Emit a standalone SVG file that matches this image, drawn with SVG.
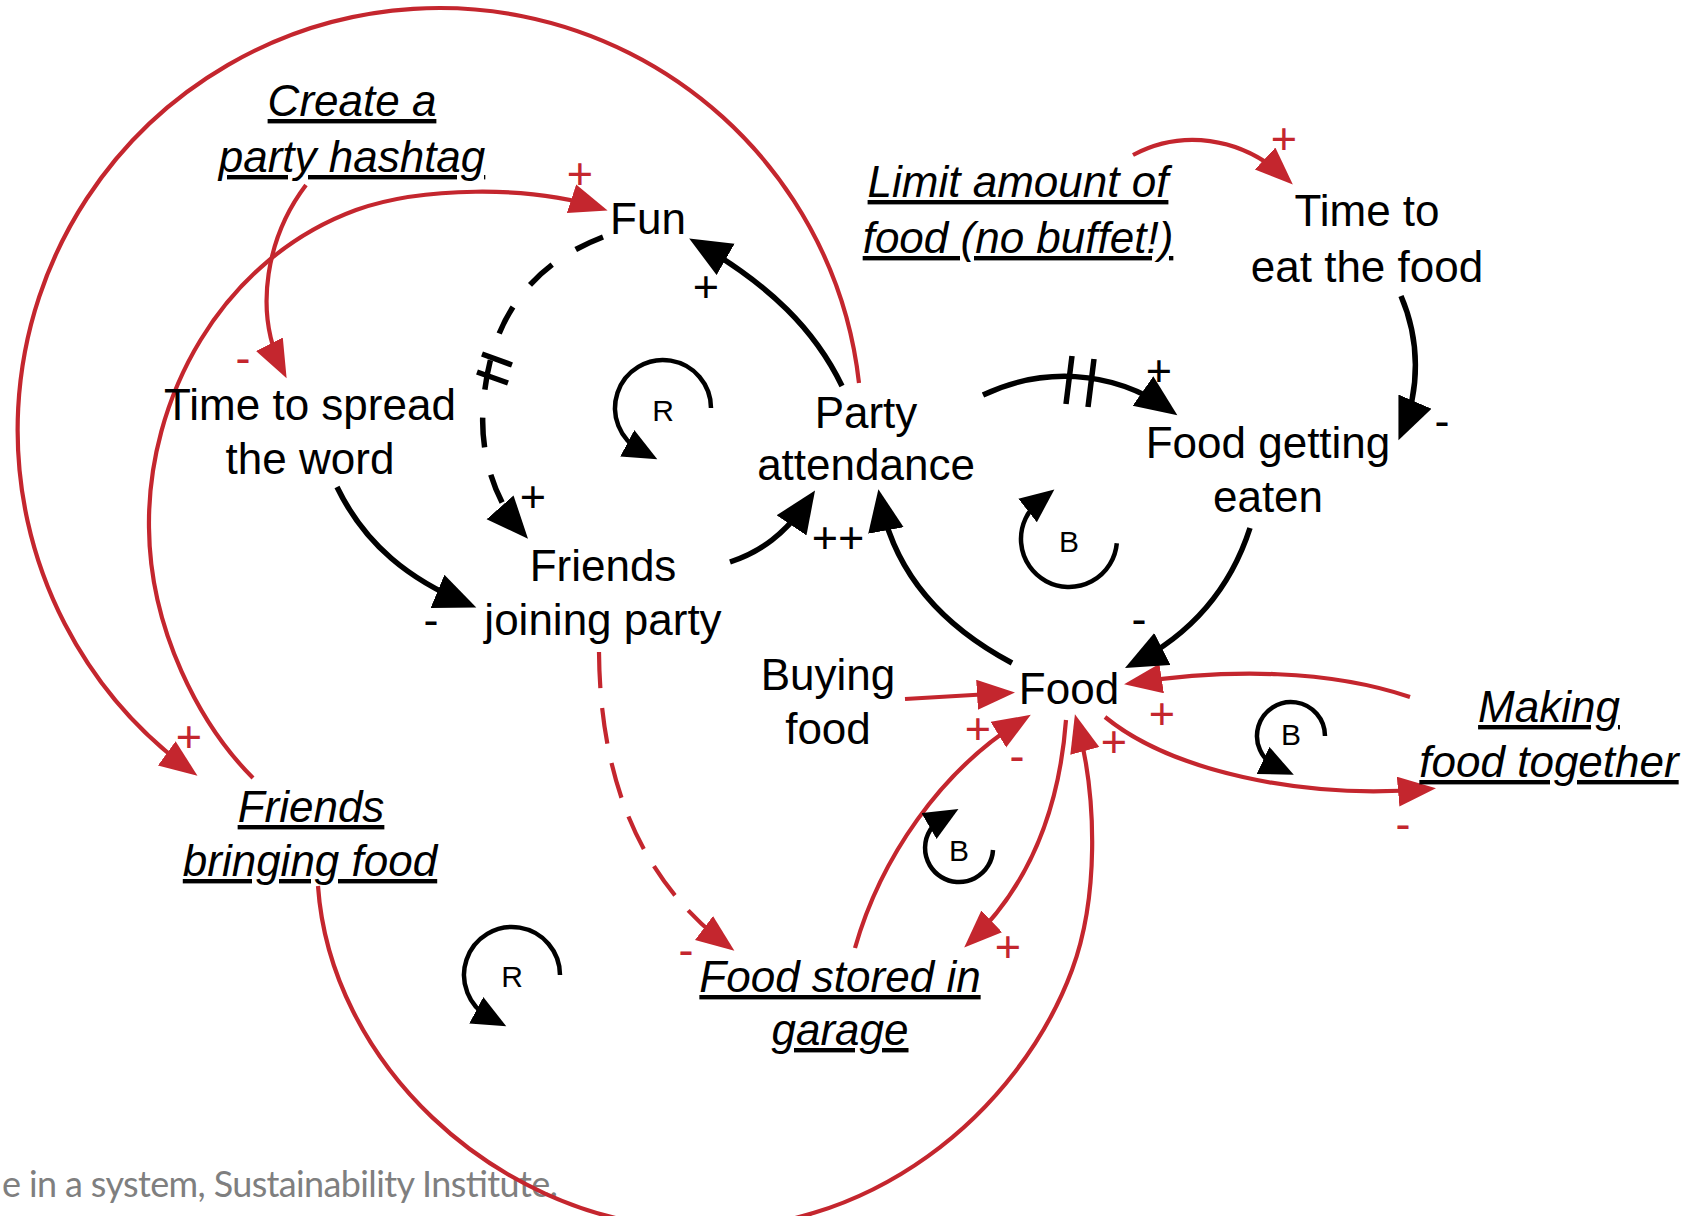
<svg xmlns="http://www.w3.org/2000/svg" width="1690" height="1216" viewBox="0 0 1690 1216">
  <style>
    .n { font-family: "Liberation Sans", Arial, sans-serif; font-size: 44px; fill: #000; text-anchor: middle; }
    .u { font-style: italic; text-decoration: underline; text-decoration-skip-ink: none; }
    .s { font-family: "Liberation Sans", Arial, sans-serif; font-size: 45px; text-anchor: middle; }
    .sb { fill: #000; }
    .sr { fill: #c4262e; }
    .lp { font-family: "Liberation Sans", Arial, sans-serif; font-size: 30px; fill: #000; text-anchor: middle; }
    .cb { fill: none; stroke: #000; stroke-width: 5.5; marker-end: url(#ahB); }
    .cr { fill: none; stroke: #c4262e; stroke-width: 4.2; marker-end: url(#ahR); }
    .dash-b { stroke-dasharray: 30 28; }
    .dash-r { stroke-dasharray: 36 20; }
    .delay { fill: none; stroke: #000; stroke-width: 5.5; }
    .loop { fill: none; stroke: #000; stroke-width: 4.5; marker-end: url(#ahL); }
    .foot { font-family: Lato, "Open Sans", sans-serif; font-size: 36px; fill: #7f7f7f; }
  </style>
  <defs>
    <marker id="ahB" markerUnits="userSpaceOnUse" markerWidth="44" markerHeight="38" refX="33" refY="18" orient="auto">
      <path d="M0,0 L42,18 L0,36 z" fill="#000"/>
    </marker>
    <marker id="ahR" markerUnits="userSpaceOnUse" markerWidth="40" markerHeight="32" refX="30" refY="15" orient="auto">
      <path d="M0,0 L38,15 L0,30 z" fill="#c4262e"/>
    </marker>
    <marker id="ahL" markerUnits="userSpaceOnUse" markerWidth="36" markerHeight="32" refX="15" refY="15" orient="auto">
      <path d="M0,0 L34,15 L0,30 z" fill="#000"/>
    </marker>
  </defs>

  <rect width="1690" height="1216" fill="#fff"/>

  <!-- source credit -->
  <text class="foot" x="2" y="1197" textLength="556" lengthAdjust="spacing">e in a system, Sustainability Institute.</text>

  <g id="connectors">
    <!-- red links -->
    <path class="cr" d="M306,185 C268,235 252,310 283,371"/>
    <path class="cr" d="M859,383 A422 422 0 1 0 191,771"/>
    <path class="cr" d="M253,778 C200,725 150,630 149,528 C147,400 220,260 356,210 C420,187 530,185 600,208"/>
    <path class="cr" d="M318,886 C330,1060 490,1215 680,1228 C870,1241 1020,1110 1072,970 C1098,900 1098,800 1077,722"/>
    <path class="cr" d="M1066,720 C1060,800 1035,880 970,942"/>
    <path class="cr" d="M855,948 C880,860 940,770 1024,719"/>
    <path class="cr dash-r" d="M599,652 C600,780 640,880 728,946"/>
    <path class="cr" d="M905,699 L1007,693"/>
    <path class="cr" d="M1410,697 C1330,670 1230,668 1132,683"/>
    <path class="cr" d="M1105,717 C1170,770 1300,800 1428,789"/>
    <path class="cr" d="M1133,155 C1180,130 1240,135 1287,179"/>

    <!-- black links -->
    <path class="cb" d="M842,386 C815,330 770,285 697,243"/>
    <path class="cb dash-b" d="M603,237 C530,265 488,320 483,410 C480,460 498,505 522,532"/>
    <path class="delay" d="M482,354 L512,365 M477,372 L508,383"/>
    <path class="cb" d="M337,487 C365,545 410,580 468,604"/>
    <path class="cb" d="M730,562 C760,552 785,535 810,498"/>
    <path class="cb" d="M1012,663 C950,630 895,580 880,498"/>
    <path class="cb" d="M983,395 C1040,368 1110,368 1170,410"/>
    <path class="delay" d="M1072,356 L1066,404 M1094,359 L1088,407"/>
    <path class="cb" d="M1401,296 C1420,340 1420,390 1402,432"/>
    <path class="cb" d="M1250,528 C1230,590 1190,635 1133,664"/>

    <!-- polarity signs -->
    <text class="s sr" x="580" y="189">+</text>
    <text class="s sr" x="243" y="373">-</text>
    <text class="s sb" x="706" y="302">+</text>
    <text class="s sr" x="1284" y="154">+</text>
    <text class="s sb" x="1159" y="386">+</text>
    <text class="s sb" x="1442" y="436">-</text>
    <text class="s sb" x="533" y="512">+</text>
    <text class="s sb" x="838" y="553">++</text>
    <text class="s sb" x="431" y="635">-</text>
    <text class="s sb" x="1139" y="634">-</text>
    <text class="s sr" x="189" y="752">+</text>
    <text class="s sr" x="978" y="744">+</text>
    <text class="s sr" x="1017" y="771">-</text>
    <text class="s sr" x="1114" y="757">+</text>
    <text class="s sr" x="1162" y="729">+</text>
    <text class="s sr" x="1403" y="839">-</text>
    <text class="s sr" x="686" y="965">-</text>
    <text class="s sr" x="1008" y="962">+</text>
  </g>

  <g id="loops">
    <g id="loop-r1"><path class="loop" d="M711,408 A48 48 0 1 0 640.5,450.4"/><text class="lp" x="663" y="421">R</text></g>
    <g id="loop-r2"><path class="loop" d="M560,975 A48 48 0 1 0 489.5,1017.4"/><text class="lp" x="512" y="987">R</text></g>
    <g id="loop-b1"><path class="loop" d="M1116.8,543.2 A48 48 0 1 1 1039.4,501.2"/><text class="lp" x="1069" y="552">B</text></g>
    <g id="loop-b2"><path class="loop" d="M1325,736 A34 34 0 1 0 1276.6,766.8"/><text class="lp" x="1291" y="745">B</text></g>
    <g id="loop-b3"><path class="loop" d="M993,850 A34 34 0 1 1 942,818.6"/><text class="lp" x="959" y="861">B</text></g>
  </g>

  <g id="node-hashtag"><text class="n u" x="352" y="116">Create a</text><text class="n u" x="352" y="172">party hashtag</text></g>
  <g id="node-fun"><text class="n" x="648" y="234">Fun</text></g>
  <g id="node-limit-food"><text class="n u" x="1018" y="197">Limit amount of</text><text class="n u" x="1018" y="253">food (no buffet!)</text></g>
  <g id="node-time-eat"><text class="n" x="1367" y="226">Time to</text><text class="n" x="1367" y="282">eat the food</text></g>
  <g id="node-time-spread"><text class="n" x="310" y="420">Time to spread</text><text class="n" x="310" y="474">the word</text></g>
  <g id="node-party"><text class="n" x="866" y="428">Party</text><text class="n" x="866" y="480">attendance</text></g>
  <g id="node-food-eaten"><text class="n" x="1268" y="458">Food getting</text><text class="n" x="1268" y="512">eaten</text></g>
  <g id="node-friends-joining"><text class="n" x="603" y="581">Friends</text><text class="n" x="603" y="635">joining party</text></g>
  <g id="node-buying"><text class="n" x="828" y="690">Buying</text><text class="n" x="828" y="744">food</text></g>
  <g id="node-food"><text class="n" x="1069" y="704">Food</text></g>
  <g id="node-making"><text class="n u" x="1549" y="722">Making</text><text class="n u" x="1549" y="777">food together</text></g>
  <g id="node-friends-bringing"><text class="n u" x="311" y="822">Friends</text><text class="n u" x="310" y="876">bringing food</text></g>
  <g id="node-garage"><text class="n u" x="840" y="992">Food stored in</text><text class="n u" x="840" y="1045">garage</text></g>
</svg>
